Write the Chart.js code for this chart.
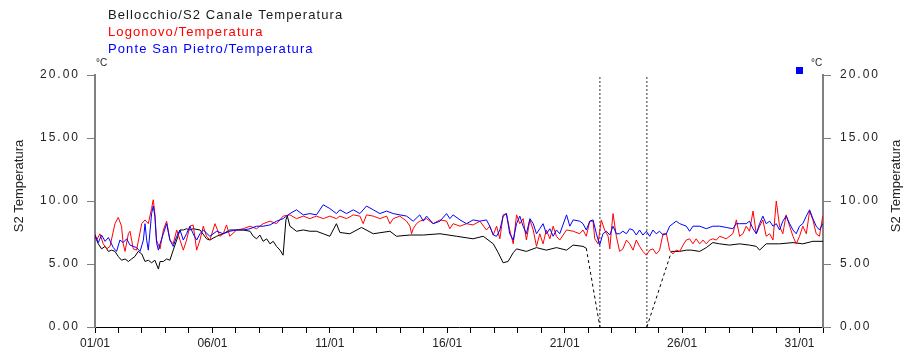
<!DOCTYPE html>
<html>
<head>
<meta charset="utf-8">
<title>S2 Temperatura</title>
<script src="https://cdn.jsdelivr.net/npm/chart.js@4.4.0/dist/chart.umd.min.js"></script>
<style>
  html, body { margin: 0; padding: 0; background: #fff; }
  #wrap { width: 907px; height: 354px; }
</style>
</head>
<body>
<div id="wrap"><canvas id="tempChart" width="907" height="354"></canvas></div>
<script>
// series names (legend text) and the axis title
const seriesNames = ['Bellocchio/S2 Canale Temperatura', 'Logonovo/Temperatura', 'Ponte San Pietro/Temperatura'];
const axisTitle = 'S2 Temperatura';
const unitLabel = '°C';

// x values are days since 01/01 00:00, y values are °C
const blackDays = [0,0.14,0.28,0.43,0.57,0.71,0.85,0.99,1.13,1.28,1.42,1.56,1.7,1.84,1.99,2.13,2.27,2.41,2.55,2.7,2.77,2.91,3.05,3.19,3.33,3.48,3.62,3.76,3.9,4.04,4.18,4.47,4.75,4.89,5.18,5.46,5.74,6.03,6.31,6.6,6.74,6.88,7.02,7.16,7.31,7.45,7.59,7.73,7.88,8.01,8.13,8.19,8.3,8.58,8.87,9.15,9.43,9.72,10.0,10.28,10.43,10.85,11.35,11.85,12.56,12.84,13.41,13.98,14.69,15.4,16.1,16.53,16.96,17.17,17.38,17.59,17.81,17.95,18.37,18.8,19.22,19.65,20.08,20.36,20.78,20.92,21.5,23.5,24.55,24.9,25.18,25.39,25.75,26.03,26.31,26.6,27.02,27.45,27.87,28.16,28.3,28.58,29.15,29.72,30.14,30.57,31.0];
const blackTemps = [7.2,6.6,6.2,6.4,6.0,6.1,6.0,5.6,5.3,5.4,5.2,5.4,5.6,6.0,5.8,5.2,5.3,5.1,5.3,4.6,5.2,5.2,5.4,5.3,6.1,6.9,7.7,7.7,7.8,7.7,7.8,7.7,7.0,6.9,7.2,7.4,7.7,7.7,7.7,7.6,7.2,7.0,7.3,6.8,7.0,6.6,6.8,6.4,6.1,5.7,8.5,8.8,8.0,7.6,7.7,7.6,7.6,7.4,7.2,8.2,7.5,7.4,7.9,7.4,7.6,7.2,7.3,7.3,7.4,7.2,7.0,7.2,6.6,5.9,5.1,5.2,5.9,6.2,6.0,6.3,6.1,6.3,6.1,6.5,6.4,6.25,0,0,6.0,6.0,6.1,6.1,6.0,6.3,6.7,6.6,6.5,6.6,6.5,6.4,6.1,6.6,6.6,6.7,6.6,6.8,6.8];

const redDays = [0,0.07,0.21,0.35,0.5,0.64,0.85,0.99,1.13,1.2,1.28,1.42,1.49,1.63,1.77,1.99,2.13,2.27,2.41,2.48,2.55,2.62,2.77,2.91,3.05,3.19,3.33,3.48,3.62,3.76,3.9,4.04,4.18,4.33,4.47,4.61,4.75,4.89,5.11,5.32,5.46,5.6,5.74,6.03,6.31,6.6,6.88,7.16,7.45,7.73,8.01,8.3,8.58,8.87,9.15,9.43,9.72,10.0,10.28,
  10.43,10.71,11.0,11.28,11.42,11.56,11.85,12.13,12.42,12.56,12.7,12.98,13.27,13.41,13.48,13.55,13.69,13.83,14.12,14.4,14.69,14.97,15.11,15.25,15.54,15.82,16.1,16.39,16.67,16.81,16.96,17.1,17.24,17.38,17.52,17.66,17.81,17.95,18.09,18.23,18.37,18.52,18.66,18.8,18.94,19.08,19.22,19.37,19.51,19.65,19.79,20.08,20.36,
  20.64,20.78,20.92,21.07,21.21,21.28,21.42,21.56,21.7,21.85,21.92,21.99,22.06,22.2,22.34,22.48,22.63,22.77,22.91,23.05,23.19,23.33,23.48,23.62,23.76,23.9,24.04,24.19,24.33,24.47,24.61,24.75,24.9,25.04,25.18,25.32,25.46,25.6,25.75,25.89,26.03,26.17,26.31,26.46,26.6,26.88,27.16,27.31,27.45,27.59,27.73,27.87,28.02,28.16,28.3,28.44,28.58,28.73,28.87,29.01,29.15,29.29,29.43,29.58,29.72,29.86,30.0,30.14,30.29,30.43,30.57,30.71,30.85,30.99];
const redTemps = [7.4,6.9,7.4,6.6,6.2,6.4,8.2,8.7,8.0,6.6,6.0,7.4,7.6,6.2,6.1,8.2,8.5,8.2,9.4,10.1,9.0,6.9,6.2,7.7,8.4,6.9,6.6,7.7,6.9,6.1,6.9,8.0,8.1,6.1,6.9,8.0,7.2,6.9,8.2,7.2,7.4,8.1,7.2,7.7,7.8,8.0,7.8,8.2,8.4,8.2,8.8,8.9,8.6,8.8,8.6,8.8,8.6,8.8,8.6,
  8.8,8.6,8.9,8.8,8.2,8.9,8.8,8.6,8.8,8.2,8.6,8.8,8.4,8.0,7.4,7.8,8.2,8.4,8.6,8.2,8.5,8.4,7.8,8.2,8.0,8.2,8.1,8.4,7.7,8.0,7.3,8.0,7.0,8.9,9.0,7.7,6.6,8.9,8.2,8.6,6.9,8.5,7.7,6.4,7.4,6.6,7.7,7.0,8.0,7.2,6.9,7.7,7.6,
  7.4,7.7,7.2,8.4,8.4,7.0,6.6,8.5,7.7,7.2,6.2,7.7,9.0,7.2,6.0,6.2,6.9,6.6,6.1,6.9,6.4,6.0,5.7,6.1,6.2,5.8,6.1,7.4,7.4,6.1,5.8,6.1,6.0,6.5,6.9,7.0,6.6,7.0,6.6,6.9,6.6,6.9,7.0,6.9,7.2,7.0,7.4,8.5,7.2,7.4,8.0,7.6,9.2,7.4,8.0,8.5,7.2,7.4,6.9,10.0,8.0,7.4,8.9,8.0,7.2,6.6,7.2,8.0,7.4,9.2,8.5,7.4,7.2,8.8];

const blueDays = [0,0.14,0.28,0.43,0.57,0.78,0.92,1.06,1.2,1.35,1.49,1.63,1.77,1.92,2.06,2.13,2.2,2.27,2.41,2.48,2.55,2.62,2.7,2.77,2.91,3.05,3.19,3.33,3.48,3.62,3.76,3.9,4.04,4.18,4.33,4.47,4.61,4.89,5.18,5.46,5.74,6.03,6.31,6.6,6.88,7.16,7.45,7.73,8.01,8.3,8.58,8.87,9.15,9.43,9.72,10.0,10.28,
  10.43,10.71,11.0,11.28,11.56,11.85,12.13,12.42,12.7,12.98,13.27,13.55,13.83,13.98,14.12,14.4,14.69,14.97,15.11,15.25,15.54,15.82,16.1,16.39,16.67,16.81,16.96,17.1,17.24,17.38,17.52,17.66,17.81,17.95,18.09,18.23,18.37,18.52,18.66,18.8,18.94,19.08,19.22,19.37,19.51,19.65,19.79,20.08,20.22,20.36,
  20.64,20.78,20.92,21.07,21.21,21.35,21.49,21.63,21.78,21.92,22.06,22.2,22.34,22.48,22.63,22.77,22.91,23.05,23.19,23.33,23.48,23.62,23.76,23.9,24.04,24.19,24.33,24.47,24.61,24.75,24.9,25.18,25.32,25.46,25.75,26.03,26.31,26.6,26.88,27.16,27.31,27.45,27.73,27.87,28.02,28.16,28.3,28.44,28.58,28.73,28.87,29.01,29.15,29.29,29.43,29.58,29.72,29.86,30.0,30.14,30.29,30.43,30.57,30.71,30.85,30.99];
const blueTemps = [7.3,6.7,7.3,6.8,7.1,6.3,6.0,6.9,6.7,7.0,6.5,6.4,6.3,6.0,6.9,8.2,6.9,6.1,9.0,9.6,8.8,6.7,6.1,6.6,7.4,8.2,6.9,6.4,7.2,7.7,6.9,7.4,8.0,7.4,6.9,7.4,7.7,7.2,7.6,7.4,7.6,7.7,7.7,7.8,8.0,8.0,8.1,8.4,8.6,9.0,9.3,8.9,9.0,8.9,9.7,9.4,9.0,
  9.3,9.0,9.3,9.0,9.6,9.3,9.0,9.2,9.0,8.9,8.8,8.4,8.9,8.4,8.8,8.2,8.4,9.0,8.6,8.9,8.5,8.2,8.5,8.4,8.5,8.0,7.3,7.2,7.7,8.8,9.0,7.4,6.9,8.2,8.8,8.0,7.4,8.6,8.2,7.4,7.8,8.2,7.4,7.8,7.2,7.7,7.4,8.9,8.0,8.5,
  8.4,8.2,7.7,8.4,8.5,7.4,6.5,7.4,7.6,7.3,8.0,7.4,7.4,7.6,7.4,7.8,7.7,7.3,7.7,7.3,7.6,7.2,7.7,7.4,7.6,7.3,7.4,8.0,8.2,8.4,8.2,8.0,7.6,8.0,8.0,7.8,8.0,8.0,7.9,7.8,8.2,8.2,8.2,8.4,7.8,7.4,8.2,8.8,8.2,8.4,8.0,8.2,7.7,8.4,8.8,8.2,7.7,7.4,8.0,8.2,8.8,9.3,8.6,8.0,7.7,8.2];

// days where the dotted vertical markers stand (Bellocchio data gap)
const gapMarkerDays = [21.5, 23.5];

// axis ticks
const xTickDays = [0, 5, 10, 15, 20, 25, 30];
const xTickLabels = ['01/01', '06/01', '11/01', '16/01', '21/01', '26/01', '31/01'];
const yTickValues = [0, 5, 10, 15, 20];
const yTickLabels = ['0.00', '5.00', '10.00', '15.00', '20.00'];

const seriesColors = ['#000000', '#ff0000', '#0000ff'];
const FONT = '"Liberation Sans", Arial, sans-serif';

function toPoints(days, temps) {
    return days.map((d, i) => ({ x: d, y: temps[i] }));
}

// spaced-out tick labels like the original (GDI style)
function spaceLabels(scale, px) {
    if (scale._spaced) return;
    const orig = scale.drawLabels.bind(scale);
    scale.drawLabels = function (area) {
        const c = this.ctx;
        const prev = c.letterSpacing;
        c.letterSpacing = px;
        orig(area);
        c.letterSpacing = prev;
    };
    scale._spaced = true;
}

const decorPlugin = {
    id: 'decor',
    beforeDraw(chart) {
        spaceLabels(chart.scales.y, '2px');
        spaceLabels(chart.scales.y2, '2px');
    },
    afterDraw(chart) {
        const ctx = chart.ctx;
        const area = chart.chartArea;
        ctx.save();
        // legend, text only
        ctx.font = '13px ' + FONT;
        ctx.letterSpacing = '1.1px';
        ctx.textAlign = 'left';
        ctx.textBaseline = 'alphabetic';
        seriesNames.forEach((name, i) => {
            ctx.fillStyle = i === 0 ? '#1a1a1a' : seriesColors[i];
            ctx.fillText(name, 108, 19 + i * 17);
        });
        // unit labels over the axes
        ctx.letterSpacing = '0px';
        ctx.font = '10px ' + FONT;
        ctx.fillStyle = '#222';
        ctx.fillText(unitLabel, area.left + 1, area.top - 9);
        ctx.fillText(unitLabel, area.right - 12, area.top - 9);
        // axis titles, both reading bottom to top
        ctx.font = '13px ' + FONT;
        ctx.textAlign = 'center';
        ctx.textBaseline = 'middle';
        [19, 896].forEach(x => {
            ctx.save();
            ctx.translate(x, (area.top + area.bottom) / 2 - 15);
            ctx.rotate(-Math.PI / 2);
            ctx.fillText(axisTitle, 0, 0);
            ctx.restore();
        });
        // small blue marker top right
        ctx.fillStyle = '#0000ff';
        ctx.fillRect(area.right - 27, area.top - 8, 7, 7);
        ctx.restore();
    }
};

const datasets = [
    {
        label: seriesNames[2],
        data: toPoints(blueDays, blueTemps),
        borderColor: seriesColors[2],
        borderWidth: 1
    },
    {
        label: seriesNames[1],
        data: toPoints(redDays, redTemps),
        borderColor: seriesColors[1],
        borderWidth: 1
    },
    {
        label: seriesNames[0],
        data: toPoints(blackDays, blackTemps),
        borderColor: seriesColors[0],
        borderWidth: 1,
        segment: {
            // the jump to and from the missing data is drawn dashed, the gap itself not at all
            borderDash: c => (c.p0.parsed.y === 0 || c.p1.parsed.y === 0) ? [3, 3] : undefined,
            borderColor: c => (c.p0.parsed.y === 0 && c.p1.parsed.y === 0) ? 'rgba(0,0,0,0)' : undefined
        }
    }
];

gapMarkerDays.forEach(d => {
    datasets.push({
        label: 'gap',
        data: [{ x: d, y: yTickValues[0] }, { x: d, y: yTickValues[yTickValues.length - 1] }],
        borderColor: '#333',
        borderWidth: 1,
        borderDash: [2, 2]
    });
});

Chart.defaults.font.family = FONT;
Chart.defaults.color = '#222';

const chart = new Chart(document.getElementById('tempChart'), {
    type: 'line',
    data: { datasets: datasets },
    plugins: [decorPlugin],
    options: {
        responsive: false,
        animation: false,
        layout: { padding: { top: 75, left: 0, right: 0, bottom: 0 } },
        elements: {
            point: { radius: 0 },
            line: { tension: 0, fill: false }
        },
        plugins: {
            legend: { display: false },
            tooltip: { enabled: false }
        },
        scales: {
            x: {
                type: 'linear',
                min: 0,
                max: 31,
                afterFit: s => { s.height = 27; },
                grid: { drawOnChartArea: false, drawTicks: true, tickLength: 6, color: '#000' },
                border: { display: true, color: '#000', width: 1 },
                ticks: {
                    stepSize: 1,
                    autoSkip: false,
                    maxRotation: 0,
                    padding: 3,
                    font: { size: 12 },
                    callback: v => {
                        const i = xTickDays.indexOf(v);
                        return i >= 0 ? xTickLabels[i] : '';
                    }
                }
            },
            y: {
                type: 'linear',
                position: 'left',
                min: 0,
                max: 20,
                afterFit: s => { s.width = 95; },
                grid: { drawOnChartArea: false, tickLength: 8, color: '#808080' },
                border: { display: true, color: '#808080', width: 2 },
                ticks: {
                    stepSize: 5,
                    padding: 7,
                    font: { size: 12 },
                    callback: v => yTickLabels[yTickValues.indexOf(v)]
                }
            },
            y2: {
                type: 'linear',
                position: 'right',
                min: 0,
                max: 20,
                afterFit: s => { s.width = 84; },
                grid: { drawOnChartArea: false, tickLength: 8, color: '#808080' },
                border: { display: true, color: '#808080', width: 2 },
                ticks: {
                    stepSize: 5,
                    padding: 9,
                    font: { size: 12 },
                    callback: v => yTickLabels[yTickValues.indexOf(v)]
                }
            }
        }
    }
});
</script>
</body>
</html>
